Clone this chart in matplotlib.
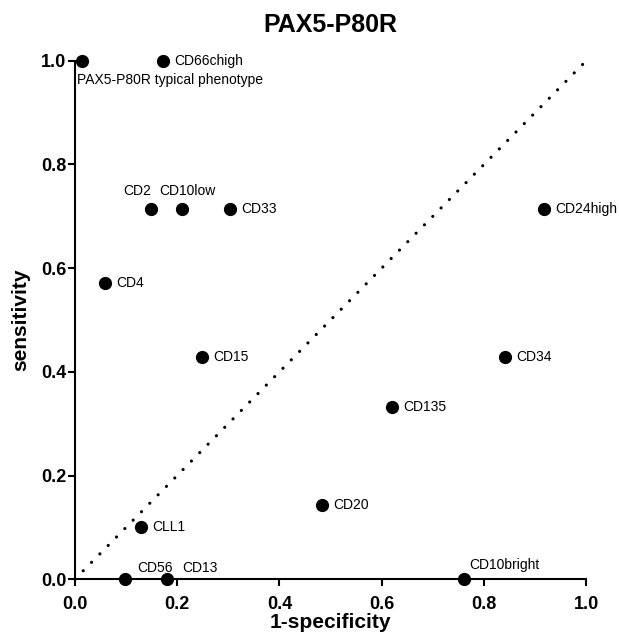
import matplotlib
matplotlib.use('Agg')
import matplotlib.pyplot as plt

plt.rcParams['font.family'] = ['Liberation Sans', 'DejaVu Sans']

labels = ['PAX5-P80R typical phenotype', 'CD66chigh', 'CD2', 'CD10low', 'CD33',
          'CD24high', 'CD4', 'CD15', 'CD34', 'CD135', 'CD20', 'CLL1',
          'CD56', 'CD13', 'CD10bright']
x = [0.014, 0.172, 0.149, 0.209, 0.303, 0.918, 0.059, 0.249, 0.841, 0.620,
     0.483, 0.129, 0.098, 0.180, 0.761]
y = [1.0, 1.0, 0.714, 0.714, 0.714, 0.714, 0.571, 0.429, 0.429, 0.333,
     0.143, 0.100, 0.0, 0.0, 0.0]
ticks = [0.0, 0.2, 0.4, 0.6, 0.8, 1.0]

# label offsets in points (dx, dy, ha)
offsets = {
    'PAX5-P80R typical phenotype': (-4, -14, 'left'),
    'CD2': (-10, 13, 'center'),
    'CD10low': (4, 13, 'center'),
    'CD56': (9, 8, 'left'),
    'CD13': (11, 8, 'left'),
    'CD10bright': (4, 10, 'left'),
}

fig = plt.figure(figsize=(6.19, 6.40), dpi=100)
ax = fig.add_axes([0.121, 0.095, 0.826, 0.81])

ax.plot([0, 1], [0, 1], color='black', lw=2.3, dashes=(0.01, 3.7),
        dash_capstyle='round', clip_on=False, zorder=1)
ax.plot(x, y, 'o', color='black', markersize=8.5, clip_on=False, zorder=3)

for lab, xi, yi in zip(labels, x, y):
    dx, dy, ha = offsets.get(lab, (8, 0, 'left'))
    ax.annotate(lab, (xi, yi), xytext=(dx, dy), textcoords='offset points',
                ha=ha, va='center', fontsize=10, annotation_clip=False)

ax.set_xlim(0, 1)
ax.set_ylim(0, 1)
ax.set_xticks(ticks)
ax.set_yticks(ticks)
ax.set_xticklabels(['%.1f' % t for t in ticks], fontsize=13, fontweight='bold')
ax.set_yticklabels(['%.1f' % t for t in ticks], fontsize=13, fontweight='bold')
ax.tick_params(direction='out', length=5, width=1.5)
ax.tick_params(axis='x', pad=7)
ax.tick_params(axis='y', pad=1)
for s in ['top', 'right']:
    ax.spines[s].set_visible(False)
for s in ['left', 'bottom']:
    ax.spines[s].set_linewidth(1.5)

ax.set_xlabel('1-specificity', fontsize=15, fontweight='bold', labelpad=0)
ax.set_ylabel('sensitivity', fontsize=15, fontweight='bold', labelpad=8)
ax.set_title('PAX5-P80R', fontsize=18, fontweight='bold', pad=21)

fig.savefig('out.png', dpi=100)
